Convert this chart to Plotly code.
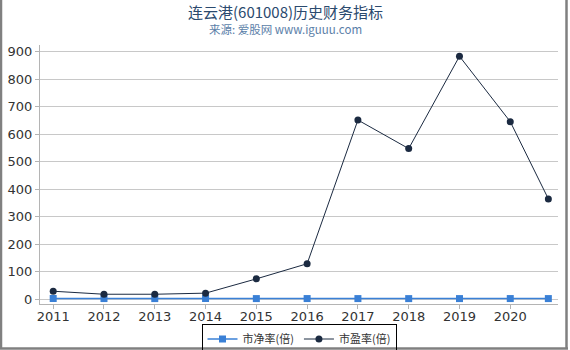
import plotly.graph_objects as go

years = [2011, 2012, 2013, 2014, 2015, 2016, 2017, 2018, 2019, 2020, 2020.75]
pb = [2.5, 2.3, 2.2, 2.4, 2.2, 2.3, 2.2, 2.1, 2.2, 2.3, 2.2]
pe = [29, 18, 18, 22, 74, 129, 652, 548, 884, 646, 365]
tick_years = [2011, 2012, 2013, 2014, 2015, 2016, 2017, 2018, 2019, 2020]
y_ticks = [0, 100, 200, 300, 400, 500, 600, 700, 800, 900]

W, H = 570, 350
ml, mr, mt, mb = 40, 12, 45, 46
pw, ph = W - ml - mr, H - mt - mb

fig = go.Figure()
fig.add_trace(go.Scatter(
    x=years, y=pb, name="市净率(倍)", mode="lines+markers",
    line=dict(color="#3a80d6", width=1.5),
    marker=dict(symbol="square", size=7, color="#3a80d6"),
))
fig.add_trace(go.Scatter(
    x=years, y=pe, name="市盈率(倍)", mode="lines+markers",
    line=dict(color="#1b2a41", width=1),
    marker=dict(symbol="circle", size=7, color="#1b2a41"),
))

def px_x(x):
    return (x - ml) / pw

def px_y(y):
    return (H - mb - y) / ph

border = dict(color="#808080", width=2.5)
fig.add_shape(type="line", xref="paper", yref="paper", x0=px_x(1), x1=px_x(1), y0=px_y(0), y1=px_y(349), line=border)
fig.add_shape(type="line", xref="paper", yref="paper", x0=px_x(566.5), x1=px_x(566.5), y0=px_y(0), y1=px_y(349), line=border)
fig.add_shape(type="line", xref="paper", yref="paper", x0=px_x(0), x1=px_x(568), y0=px_y(348.5), y1=px_y(348.5), line=border)

fig.add_annotation(text="连云港(601008)历史财务指标", xref="paper", yref="paper",
                   x=px_x(285), y=px_y(11.5), showarrow=False, yanchor="middle",
                   font=dict(family="Noto Sans CJK SC", size=15, color="#2b4a6e"))
fig.add_annotation(text="来源: 爱股网 www.iguuu.com", xref="paper", yref="paper",
                   x=px_x(285), y=px_y(29), showarrow=False, yanchor="middle",
                   font=dict(family="Noto Sans CJK SC", size=11.5, color="#5a7ea8"))

fig.update_layout(
    width=W, height=H,
    margin=dict(l=ml, r=mr, t=mt, b=mb, autoexpand=False),
    paper_bgcolor="white", plot_bgcolor="white",
    showlegend=True,
    legend=dict(orientation="h", x=0.5, xanchor="center", y=px_y(323.5), yanchor="top",
                bordercolor="black", borderwidth=1, bgcolor="rgba(255,255,255,0)",
                font=dict(family="Noto Sans CJK SC", size=11, color="#333"),
                itemwidth=30, tracegroupgap=0),
    font=dict(family="DejaVu Sans", size=13, color="#333"),
)
fig.update_xaxes(range=[2010.74, 2020.94], tickvals=tick_years, ticktext=[str(t) for t in tick_years],
                 showgrid=False, showline=True, linecolor="#b4b4b4", linewidth=1,
                 ticks="outside", ticklen=4, tickcolor="#b4b4b4", zeroline=False,
                 ticklabelstandoff=-4,
                 tickfont=dict(family="DejaVu Sans", size=13, color="#333"))
fig.update_yaxes(range=[-17.5, 925], tickvals=y_ticks,
                 showgrid=True, gridcolor="#c8c8c8", gridwidth=1,
                 showline=True, linecolor="#b4b4b4", linewidth=1,
                 ticks="outside", ticklen=4, tickcolor="#b4b4b4", zeroline=False,
                 tickfont=dict(family="DejaVu Sans", size=13, color="#333"))

fig.write_html("out.html")
